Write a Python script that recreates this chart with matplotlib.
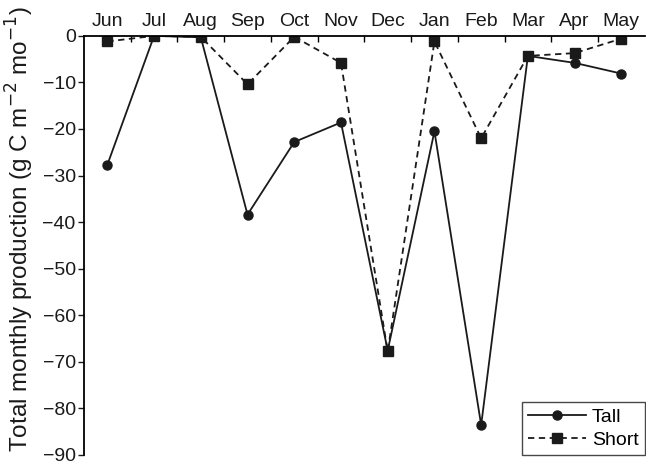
import numpy as np
import matplotlib
matplotlib.use("Agg")
import matplotlib.pyplot as plt

plt.rcParams['font.family'] = ['Liberation Sans', 'DejaVu Sans']

months = ['Jun', 'Jul', 'Aug', 'Sep', 'Oct', 'Nov', 'Dec',
          'Jan', 'Feb', 'Mar', 'Apr', 'May']
tall = [-27.7, 0.0, -0.3, -38.4, -22.8, -18.6, -67.6,
        -20.5, -83.6, -4.3, -5.8, -8.1]
short = [-1.2, 0.0, -0.2, -10.4, -0.2, -5.8, -67.8,
         -1.2, -22.0, -4.3, -3.7, -0.6]

fig = plt.figure(figsize=(6.46, 4.66), dpi=100)
ax = fig.add_axes([0.130, 0.024, 0.868, 0.899])

x = np.arange(len(months))
ax.plot(x, tall, '-', color='#1a1a1a', lw=1.3, marker='o', ms=6.5, label='Tall')
ax.plot(x, short, '--', color='#1a1a1a', lw=1.3, marker='s', ms=6.5,
        dashes=(3.5, 2.5), label='Short')

ax.set_xlim(-0.5, 11.5)
ax.set_ylim(-90, 0)
ax.set_yticks(np.arange(-90, 1, 10))
ax.tick_params(axis='y', labelsize=14, length=4, width=1, direction='out',
               pad=2, colors='#1a1a1a')

# month names on top, ticks between months pointing down
ax.xaxis.tick_top()
ax.set_xticks(x)
ax.set_xticklabels(months)
ax.set_xticks(x[:-1] + 0.5, minor=True)
ax.tick_params(axis='x', which='major', length=0, labelsize=14, pad=4,
               colors='#1a1a1a')
ax.tick_params(axis='x', which='minor', length=4, width=1, direction='in')

for s in ['right', 'bottom']:
    ax.spines[s].set_visible(False)
ax.spines['left'].set_linewidth(1.3)
ax.spines['top'].set_linewidth(1.3)

ax.set_ylabel('Total monthly production (g C m$^{-2}$ mo$^{-1}$)', fontsize=17.5,
              color='#1a1a1a')
ax.yaxis.set_label_coords(-0.086, 0.54)

leg = ax.legend(loc='lower right', fontsize=14, frameon=True, fancybox=False,
                edgecolor='#1a1a1a', handlelength=3.0, handletextpad=0.3,
                borderpad=0.3, labelspacing=0.3, borderaxespad=0.0)
leg.get_frame().set_linewidth(1.0)

fig.savefig('out.png', dpi=100)
